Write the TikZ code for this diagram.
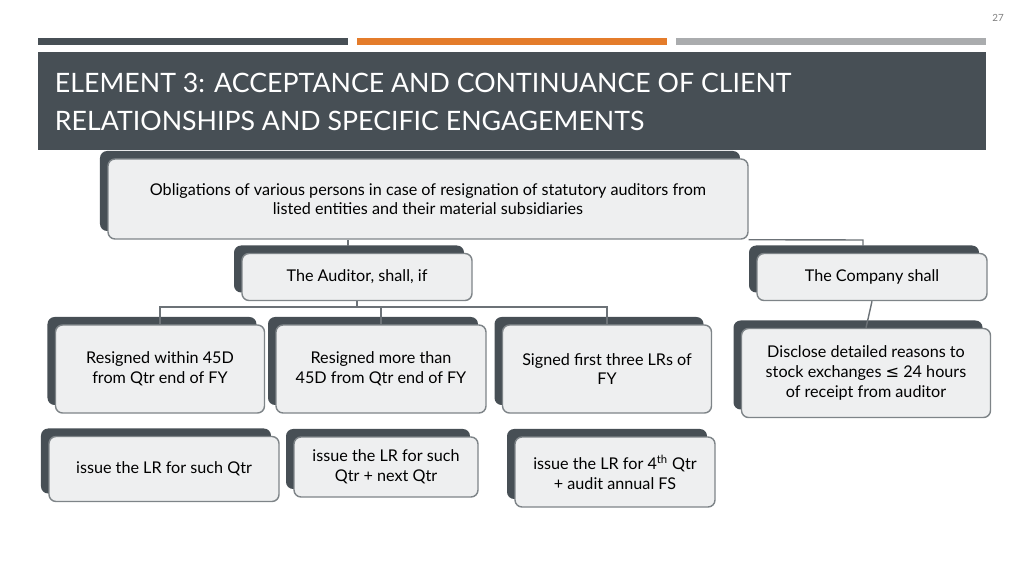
\documentclass[tikz,border=0pt]{standalone}
\usepackage{fontspec}
\setmainfont{Lato}
\newfontfamily\symfont{DejaVu Sans}
\usetikzlibrary{shadows,positioning}
\definecolor{myslate}{RGB}{71,79,85}
\definecolor{myorange}{RGB}{228,124,43}
\definecolor{mylight}{RGB}{170,172,174}
\definecolor{myfill}{RGB}{238,239,240}
\tikzset{
  card/.style={draw=myslate!70,line width=1pt,fill=myfill,rounded corners=5pt,
    align=center,font=\fontsize{11.5}{14}\selectfont,inner sep=2pt,
    copy shadow={shadow xshift=-0.2cm,shadow yshift=0.2cm,fill=myslate,draw=none}},
  link/.style={draw=myslate!80,line width=1pt}
}
\begin{document}
\begin{tikzpicture}[x=0.025cm,y=-0.025cm]
\useasboundingbox (0,0) rectangle (1024,576);
\node[font=\fontsize{7}{8}\selectfont,text=gray] (pg) at (998,18) {27};
\fill[myslate] (38,38) rectangle (348,45);
\fill[myorange] (357,38) rectangle (667,45);
\fill[mylight] (676,38) rectangle (986,45);
\fill[myslate] (38,52) rectangle (986,150);
\node[anchor=west,text=white,align=left,font=\fontsize{19}{27}\selectfont] (title) at (50,102)
  {ELEMENT 3: ACCEPTANCE AND CONTINUANCE OF CLIENT\\RELATIONSHIPS AND SPECIFIC ENGAGEMENTS};
% level 1
\node[card,minimum width=640*0.025cm,minimum height=80*0.025cm] (top) at (428,199)
  {Obligations of various persons in case of resignation of statutory auditors from\\listed entities and their material subsidiaries};
% level 2
\node[card,minimum width=230*0.025cm,minimum height=47*0.025cm] (aud) at (357,277) {The Auditor, shall, if};
\node[card,minimum width=230*0.025cm,minimum height=47*0.025cm] (com) at (872,277) {The Company shall};
% level 3
\node[card,minimum width=209*0.025cm,minimum height=88*0.025cm] (r1) at (160,369) {Resigned within 45D\\from Qtr end of FY};
\node[card,minimum width=210*0.025cm,minimum height=88*0.025cm] (r2) at (381,369) {Resigned more than\\45D from Qtr end of FY};
\node[card,minimum width=209*0.025cm,minimum height=88*0.025cm] (r3) at (607,369) {Signed first three LRs of\\FY};
\node[card,minimum width=249*0.025cm,minimum height=89*0.025cm] (cd) at (866,373) {Disclose detailed reasons to\\stock exchanges {\symfont≤} 24 hours\\of receipt from auditor};
% level 4
\node[card,minimum width=230*0.025cm,minimum height=65*0.025cm] (a1) at (164,469) {issue the LR for such Qtr};
\node[card,minimum width=184*0.025cm,minimum height=60*0.025cm] (a2) at (386,467) {issue the LR for such\\Qtr + next Qtr};
\node[card,minimum width=200*0.025cm,minimum height=70*0.025cm] (a3) at (615,472) {issue the LR for 4\textsuperscript{th} Qtr\\+ audit annual FS};
% connectors
\coordinate (j1) at (348,240);
\coordinate (j2) at (863,240);
\draw[link] (j1) -- (348,246);
\draw[link] (top.south east) -- (j2) -- (863,246);
\draw[link] (aud.south) -- ++(0,6) -| (r1.north);
\draw[link] (aud.south) ++(0,6) -| (r2.north);
\draw[link] (aud.south) ++(0,6) -| (r3.north);
\draw[link] (com.south) -- (cd.north);
\end{tikzpicture}
\end{document}
